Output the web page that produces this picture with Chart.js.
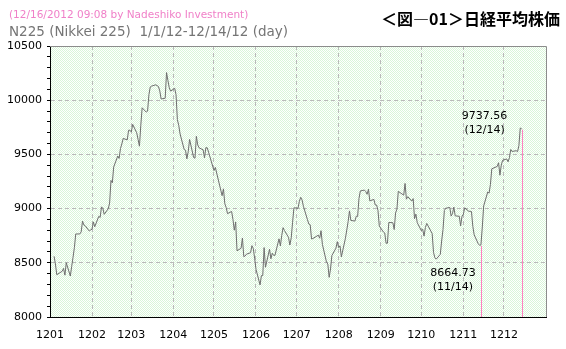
<!DOCTYPE html>
<html>
<head>
<meta charset="utf-8">
<script src="https://cdn.jsdelivr.net/npm/chart.js@4.4.1/dist/chart.umd.min.js"></script>
<style>
  body { margin: 0; background: #fff; }
  #wrap { position: relative; width: 566px; height: 349px; }
  #stamp { position: absolute; left: 9px; top: 8px; font: 10.5px "DejaVu Sans"; color: #f080c8; white-space: nowrap; }
  #title { position: absolute; left: 9px; top: 23px; font: 13.5px "DejaVu Sans"; color: #757575; white-space: pre; }
  #figure { position: absolute; left: 381px; top: 6px; font: bold 16px "Noto Sans CJK JP"; color: #000; white-space: nowrap; }
</style>
</head>
<body>
<div id="wrap">
  <canvas id="n225Chart" width="566" height="349"></canvas>
  <div id="stamp">(12/16/2012 09:08 by Nadeshiko Investment)</div>
  <div id="title">N225 (Nikkei 225)  1/1/12-12/14/12 (day)</div>
  <div id="figure">＜図―01＞日経平均株価</div>
</div>
<script>
// trading days of 2012 (M/D) and Nikkei 225 closes
const tradeDates = [
  '1/4','1/5','1/6','1/10','1/11','1/12','1/13','1/16','1/17','1/18','1/19','1/20','1/23','1/24','1/25','1/26','1/27','1/30','1/31',
  '2/1','2/2','2/3','2/6','2/7','2/8','2/9','2/10','2/13','2/14','2/15','2/16','2/17','2/20','2/21','2/22','2/23','2/24','2/27','2/28','2/29',
  '3/1','3/2','3/5','3/6','3/7','3/8','3/9','3/12','3/13','3/14','3/15','3/16','3/19','3/21','3/22','3/23','3/26','3/27','3/28','3/29','3/30',
  '4/2','4/3','4/4','4/5','4/6','4/9','4/10','4/11','4/12','4/13','4/16','4/17','4/18','4/19','4/20','4/23','4/24','4/25','4/26','4/27',
  '5/1','5/2','5/7','5/8','5/9','5/10','5/11','5/14','5/15','5/16','5/17','5/18','5/21','5/22','5/23','5/24','5/25','5/28','5/29','5/30','5/31',
  '6/1','6/4','6/5','6/6','6/7','6/8','6/11','6/12','6/13','6/14','6/15','6/18','6/19','6/20','6/21','6/22','6/25','6/26','6/27','6/28','6/29',
  '7/2','7/3','7/4','7/5','7/6','7/9','7/10','7/11','7/12','7/13','7/17','7/18','7/19','7/20','7/23','7/24','7/25','7/26','7/27','7/30','7/31',
  '8/1','8/2','8/3','8/6','8/7','8/8','8/9','8/10','8/13','8/14','8/15','8/16','8/17','8/20','8/21','8/22','8/23','8/24','8/27','8/28','8/29','8/30','8/31',
  '9/3','9/4','9/5','9/6','9/7','9/10','9/11','9/12','9/13','9/14','9/18','9/19','9/20','9/21','9/24','9/25','9/26','9/27','9/28',
  '10/1','10/2','10/3','10/4','10/5','10/9','10/10','10/11','10/12','10/15','10/16','10/17','10/18','10/19','10/22','10/23','10/24','10/25','10/26','10/29','10/30','10/31',
  '11/1','11/2','11/5','11/6','11/7','11/8','11/9','11/12','11/13','11/14','11/15','11/16','11/19','11/20','11/21','11/22','11/26','11/27','11/28','11/29','11/30',
  '12/3','12/4','12/5','12/6','12/7','12/10','12/11','12/12','12/13','12/14'
];

const closes = [
  8560, 8489, 8390, 8422, 8448, 8386, 8500, 8378, 8466, 8551, 8640, 8766, 8766, 8785, 8884, 8849, 8841, 8793, 8803,
  8810, 8877, 8832, 8929, 8918, 9016, 9002, 8947, 8999, 9052, 9260, 9238, 9384, 9485, 9463, 9554, 9596, 9647, 9634, 9723, 9723,
  9707, 9777, 9699, 9638, 9576, 9769, 9930, 9890, 9899, 10051, 10123, 10130, 10142, 10127, 10086, 10011, 10018, 10255, 10183, 10115, 10084,
  10110, 10050, 9820, 9768, 9688, 9546, 9538, 9459, 9525, 9638, 9471, 9465, 9667, 9588, 9561, 9542, 9469, 9562, 9561, 9521,
  9351, 9380, 9119, 9182, 9045, 9010, 8953, 8974, 8901, 8801, 8877, 8611, 8634, 8729, 8557, 8563, 8580, 8593, 8658, 8633, 8543,
  8440, 8296, 8382, 8383, 8640, 8459, 8625, 8537, 8588, 8569, 8569, 8721, 8656, 8752, 8824, 8798, 8735, 8664, 8730, 8874, 9007,
  9003, 9067, 9104, 9080, 9021, 8897, 8858, 8851, 8720, 8724, 8755, 8727, 8796, 8670, 8508, 8488, 8366, 8443, 8567, 8635, 8695,
  8640, 8656, 8555, 8726, 8803, 8881, 8979, 8891, 8885, 8930, 8928, 9093, 9163, 9171, 9157, 9132, 9178, 9071, 9085, 9033, 9033, 8984, 8840,
  8784, 8776, 8680, 8681, 8872, 8870, 8807, 8960, 8995, 9159, 9124, 9232, 9087, 9110, 9069, 9092, 8907, 8949, 8870,
  8797, 8809, 8746, 8825, 8863, 8770, 8596, 8547, 8534, 8578, 8701, 8807, 8983, 9003, 9011, 8931, 8954, 9014, 8933, 8929, 8841, 8928,
  8947, 9007, 8975, 8975, 8973, 8837, 8758, 8676, 8661, 8664.73, 8830, 9024, 9153, 9143, 9223, 9367, 9389, 9423, 9308, 9401, 9446,
  9458, 9432, 9469, 9545, 9527, 9534, 9525, 9581, 9743, 9737.56
];

const monthLabels = ['1201','1202','1203','1204','1205','1206','1207','1208','1209','1210','1211','1212'];
const yTicks = [8000, 8500, 9000, 9500, 10000, 10500];

// low / last values that get a pink drop line and a label
const markDates = ['11/14', '12/14'];
const markValues = [8664.73, 9737.56];

function dayOfYear(md) {
    const parts = md.split('/');
    return (Date.UTC(2012, parts[0] - 1, parts[1]) - Date.UTC(2012, 0, 1)) / 86400000;
}

const monthStarts = monthLabels.map((l, i) => (Date.UTC(2012, i, 1) - Date.UTC(2012, 0, 1)) / 86400000);
const points = tradeDates.map((d, i) => ({ x: dayOfYear(d), y: closes[i] }));

// dotted light green plot background
var patCanvas = document.createElement('canvas');
patCanvas.width = 2; patCanvas.height = 2;
var pctx = patCanvas.getContext('2d');
pctx.fillStyle = '#ffffff'; pctx.fillRect(0, 0, 2, 2);
pctx.fillStyle = '#d9f6d9'; pctx.fillRect(0, 0, 1, 1); pctx.fillRect(1, 1, 1, 1);

const plotDecor = {
    id: 'plotDecor',
    beforeDraw(chart) {
        const { ctx, chartArea: a } = chart;
        ctx.save();
        ctx.fillStyle = ctx.createPattern(patCanvas, 'repeat');
        ctx.fillRect(a.left, a.top, a.right - a.left, a.bottom - a.top);
        ctx.restore();
    },
    afterDatasetsDraw(chart) {
        const { ctx, chartArea: a, scales: { x, y } } = chart;
        ctx.save();
        ctx.strokeStyle = '#ff80c0';
        ctx.lineWidth = 1;
        markDates.forEach((d, i) => {
            const px = Math.round(x.getPixelForValue(dayOfYear(d))) + 0.5;
            ctx.beginPath();
            ctx.moveTo(px, y.getPixelForValue(markValues[i]) + 1);
            ctx.lineTo(px, a.bottom);
            ctx.stroke();
        });
        ctx.restore();
    },
    afterDraw(chart) {
        const { ctx, chartArea: a, scales: { x, y } } = chart;
        ctx.save();
        // top and right frame
        ctx.strokeStyle = '#8c8c8c';
        ctx.lineWidth = 1;
        ctx.beginPath();
        ctx.moveTo(a.left, a.top + 0.5);
        ctx.lineTo(a.right + 0.5, a.top + 0.5);
        ctx.lineTo(a.right + 0.5, a.bottom);
        ctx.stroke();
        // value labels
        ctx.fillStyle = '#000';
        ctx.font = '11px "DejaVu Sans"';
        ctx.textAlign = 'center';
        ctx.textBaseline = 'middle';
        const lowX = x.getPixelForValue(dayOfYear(markDates[0]));
        const lowY = y.getPixelForValue(markValues[0]);
        ctx.fillText(markValues[0].toFixed(2), lowX - 28, lowY + 28);
        ctx.fillText('(' + markDates[0] + ')', lowX - 28, lowY + 42);
        const lastX = x.getPixelForValue(dayOfYear(markDates[1]));
        const lastY = y.getPixelForValue(markValues[1]);
        ctx.fillText(markValues[1].toFixed(2), lastX - 37, lastY - 13);
        ctx.fillText('(' + markDates[1] + ')', lastX - 37, lastY + 1);
        ctx.restore();
    }
};

var ctx = document.getElementById('n225Chart').getContext('2d');

var myChart = new Chart(ctx, {
    type: 'line',
    data: {
        datasets: [{
            data: points,
            borderColor: '#6e6e6e',
            borderWidth: 1,
            pointRadius: 0,
            tension: 0,
            fill: false
        }]
    },
    options: {
        responsive: false,
        animation: false,
        layout: { padding: { left: 0, top: 46, right: 20, bottom: 0 } },
        plugins: {
            legend: { display: false },
            tooltip: { enabled: false }
        },
        scales: {
            x: {
                type: 'linear',
                min: 0,
                max: 366,
                afterBuildTicks: s => { s.ticks = monthStarts.map(v => ({ value: v })); },
                afterFit: s => { s.height = 32; },
                ticks: {
                    callback: (v, i) => monthLabels[i],
                    autoSkip: false,
                    maxRotation: 0,
                    padding: 12,
                    color: '#000',
                    font: { family: 'DejaVu Sans', size: 11 }
                },
                grid: {
                    drawTicks: false,
                    color: c => c.index === 0 ? 'rgba(0,0,0,0)' : '#b9b9b9'
                },
                border: { display: true, color: '#000', width: 1, dash: [4, 3] }
            },
            y: {
                min: yTicks[0],
                max: yTicks[yTicks.length - 1],
                ticks: {
                    stepSize: 100,
                    autoSkip: false,
                    padding: 5,
                    color: '#000',
                    font: { family: 'DejaVu Sans', size: 11 },
                    callback: v => yTicks.includes(v) ? String(v) : ''
                },
                afterFit: s => { s.width = 50; },
                grid: {
                    tickLength: 3,
                    tickColor: '#000',
                    color: c => {
                        const v = c.tick ? c.tick.value : 0;
                        return (yTicks.includes(v) && v !== yTicks[0] && v !== yTicks[yTicks.length - 1]) ? '#b9b9b9' : 'rgba(0,0,0,0)';
                    }
                },
                border: { display: true, color: '#000', width: 1, dash: [4, 3] }
            }
        }
    },
    plugins: [plotDecor]
});
</script>
</body>
</html>
